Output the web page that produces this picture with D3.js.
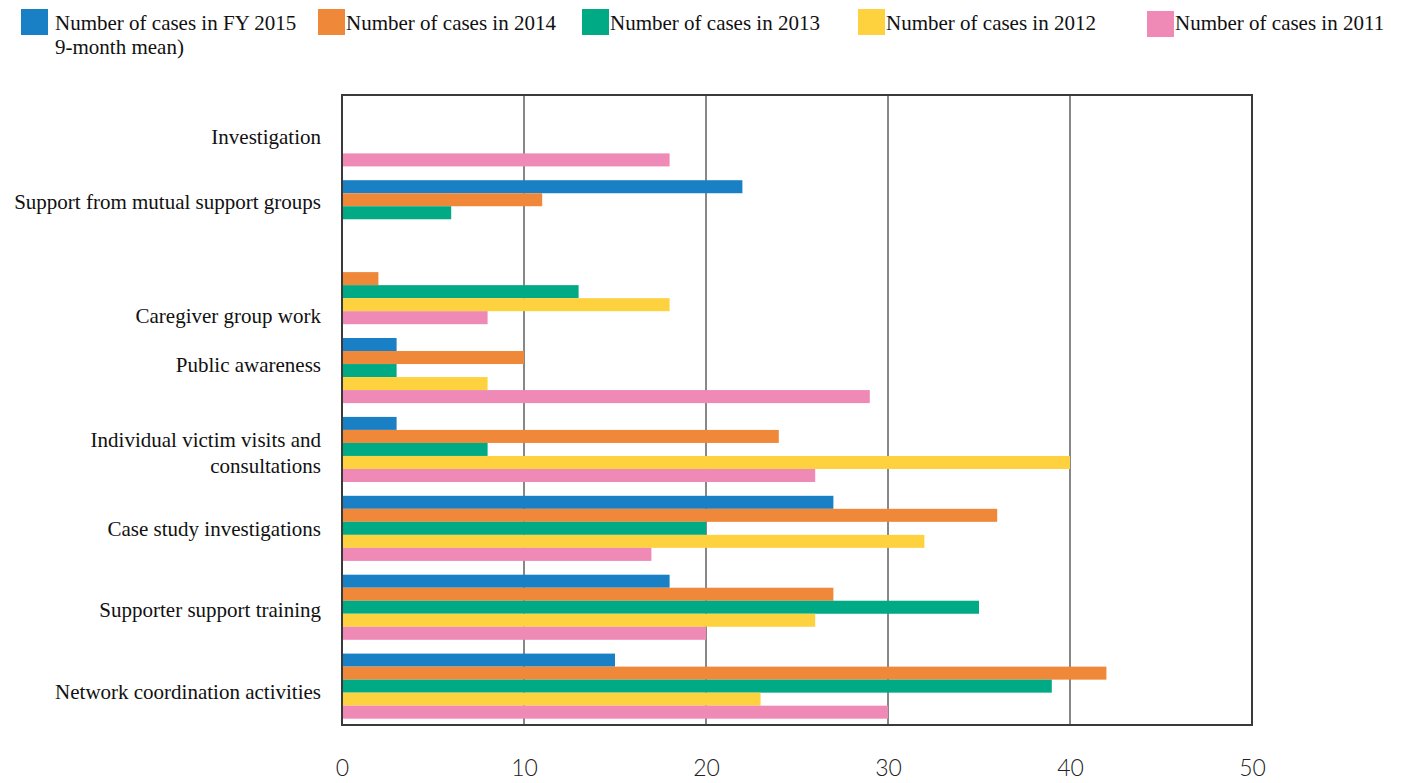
<!DOCTYPE html>
<html>
<head>
<meta charset="utf-8">
<script src="https://cdn.jsdelivr.net/npm/d3@7"></script>
<style>
  html, body { margin: 0; padding: 0; background: #fff; }
  svg { display: block; }
</style>
</head>
<body>
<svg id="chart" width="1403" height="783"></svg>
<script>
// ---------- data ----------
const categories = [
  "Investigation",
  "Support from mutual support groups",
  "Caregiver group work",
  "Public awareness",
  "Individual victim visits and consultations",
  "Case study investigations",
  "Supporter support training",
  "Network coordination activities"
];
const seriesNames = [
  "Number of cases in FY 2015\n9-month mean)",
  "Number of cases in 2014",
  "Number of cases in 2013",
  "Number of cases in 2012",
  "Number of cases in 2011"
];
// values per category, in series order (null = no bar)
const fy2015 = [null, 22, null, 3, 3, 27, 18, 15];
const y2014  = [null, 11, 2, 10, 24, 36, 27, 42];
const y2013  = [null, 6, 13, 3, 8, 20, 35, 39];
const y2012  = [null, null, 18, 8, 40, 32, 26, 23];
const y2011  = [18, null, 8, 29, 26, 17, 20, 30];
const tickValues = [0, 10, 20, 30, 40, 50];

// ---------- styles / layout ----------
const colors = ["#1a80c5", "#f0883a", "#00aa84", "#fed23f", "#ef89b5"];
const labelShift = [3, -11, 24, -6, 4, 1, 3, 6];
const legendSquareX = [21, 318, 582, 858, 1147];
const legendTextX = [55, 346, 610, 886, 1175];

const seriesValues = [fy2015, y2014, y2013, y2012, y2011];
const svg = d3.select("#chart");
const plot = { left: 342, right: 1252, top: 95, bottom: 725 };

const x = d3.scaleLinear().domain([0, 50]).range([plot.left, plot.right]);
const y = d3.scaleBand().domain(categories).range([plot.top, plot.bottom])
  .paddingInner(0.175).paddingOuter(0.08);
const ySub = d3.scaleBand().domain(d3.range(seriesNames.length)).range([0, y.bandwidth()]);

// gridlines
svg.append("g").selectAll("line")
  .data(tickValues.filter(t => t > 0 && t < 50))
  .join("line")
  .attr("x1", d => x(d)).attr("x2", d => x(d))
  .attr("y1", plot.top).attr("y2", plot.bottom)
  .attr("stroke", "#111").attr("stroke-width", 1);

// bars
const rows = [];
categories.forEach((c, ci) => {
  seriesValues.forEach((arr, si) => {
    if (arr[ci] != null) rows.push({ cat: c, s: si, v: arr[ci] });
  });
});
svg.append("g").selectAll("rect")
  .data(rows)
  .join("rect")
  .attr("x", x(0))
  .attr("y", d => y(d.cat) + ySub(d.s))
  .attr("width", d => x(d.v) - x(0))
  .attr("height", ySub.bandwidth())
  .attr("fill", d => colors[d.s]);

// plot frame
svg.append("rect")
  .attr("x", plot.left).attr("y", plot.top)
  .attr("width", plot.right - plot.left).attr("height", plot.bottom - plot.top)
  .attr("fill", "none").attr("stroke", "#3a3a3a").attr("stroke-width", 2);

// x axis labels
const xAxis = d3.axisBottom(x).tickValues(tickValues).tickSize(0).tickPadding(35);
const gx = svg.append("g").attr("transform", `translate(0,${plot.bottom})`).call(xAxis);
gx.select(".domain").remove();
gx.selectAll("text")
  .attr("font-family", "Lato, 'Open Sans', sans-serif")
  .attr("font-size", 23)
  .attr("font-weight", 300)
  .attr("fill", "#222");

// category labels (wrapped)
const labelFont = "'Liberation Serif', 'Times New Roman', serif";
const fs = 21;
const ctx = document.createElement("canvas").getContext("2d");
ctx.font = fs + "px " + labelFont;
function wrap(text, maxW) {
  const words = text.split(" ");
  const lines = [];
  let cur = "";
  words.forEach(w => {
    const test = cur ? cur + " " + w : w;
    if (ctx.measureText(test).width > maxW && cur) { lines.push(cur); cur = w; }
    else cur = test;
  });
  lines.push(cur);
  return lines;
}
const lineH = 26;
const labels = svg.append("g").selectAll("text")
  .data(categories)
  .join("text")
  .attr("text-anchor", "end")
  .attr("font-family", labelFont)
  .attr("font-size", fs)
  .attr("fill", "#111");
labels.each(function(d, i) {
  const lines = wrap(d, 322);
  const cy = y(d) + y.bandwidth() / 2 + labelShift[i];
  const firstBase = cy - (lines.length - 1) * lineH / 2 + 7;
  d3.select(this).selectAll("tspan")
    .data(lines)
    .join("tspan")
    .attr("x", 321)
    .attr("y", (l, k) => firstBase + k * lineH)
    .text(l => l);
});

// legend
const leg = svg.append("g");
seriesNames.forEach((name, i) => {
  leg.append("rect")
    .attr("x", legendSquareX[i]).attr("y", i === 4 ? 11 : 9)
    .attr("width", 27).attr("height", 26)
    .attr("fill", colors[i]);
  const t = leg.append("text")
    .attr("font-family", labelFont)
    .attr("font-size", fs)
    .attr("fill", "#111");
  name.split("\n").forEach((ln, k) => {
    t.append("tspan")
      .attr("x", legendTextX[i])
      .attr("y", 30 + k * 24)
      .text(ln);
  });
});
</script>
</body>
</html>
